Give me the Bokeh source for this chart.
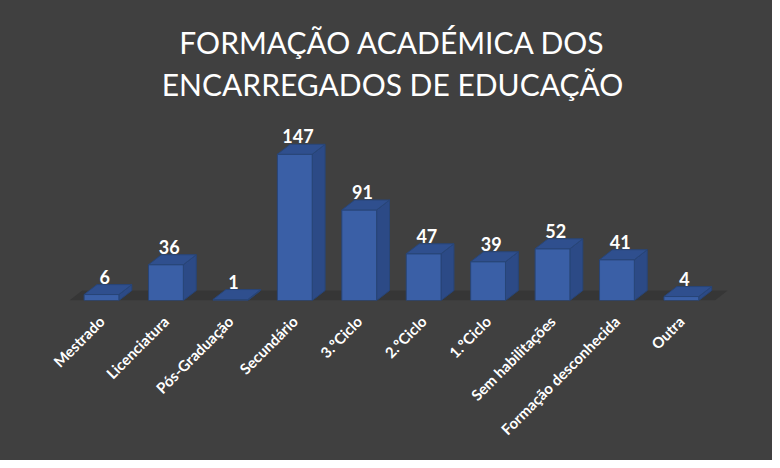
import math
from bokeh.plotting import figure
from bokeh.models import Range1d, FixedTicker, Title, ColumnDataSource
from bokeh.core.properties import value
from bokeh.embed import file_html
from bokeh.resources import INLINE

# ---- data ----
categories = ["Mestrado", "Licenciatura", "Pós-Graduação", "Secundário", "3.ºCiclo",
              "2.ºCiclo", "1.ºCiclo", "Sem habilitações", "Formação desconhecida", "Outra"]
counts = [6, 36, 1, 147, 91, 47, 39, 52, 41, 4]
title_lines = ["FORMAÇÃO ACADÉMICA DOS", "ENCARREGADOS DE EDUCAÇÃO"]

# ---- style ----
BG = "#404040"
FLOOR = "#363636"
FRONT = "#3A5FA6"
TOP = "#2F4F8E"
SIDE = "#2C4A86"
EDGE = "#284577"
HALF_W = 0.27
DX = 0.2
DY = 10

xs = list(range(len(categories)))

front_src = ColumnDataSource(dict(
    left=[x - HALF_W for x in xs], right=[x + HALF_W for x in xs],
    bottom=[0] * len(xs), top=counts))
top_src = ColumnDataSource(dict(
    xs=[[x - HALF_W, x + HALF_W, x + HALF_W + DX, x - HALF_W + DX] for x in xs],
    ys=[[v, v, v + DY, v + DY] for v in counts]))
side_src = ColumnDataSource(dict(
    xs=[[x + HALF_W, x + HALF_W + DX, x + HALF_W + DX, x + HALF_W] for x in xs],
    ys=[[0, DY, v + DY, v] for v in counts]))
label_src = ColumnDataSource(dict(
    x=[x + DX / 4 for x in xs], y=[v + DY + 8 for v in counts],
    text=[str(v) for v in counts]))

p = figure(width=772, height=460, output_backend="svg", toolbar_location=None,
           title=None, y_axis_location=None,
           x_range=Range1d(-0.947, 9.98), y_range=Range1d(0, 196),
           min_border_left=40, min_border_right=28, min_border_top=105,
           min_border_bottom=160,
           outline_line_color=None)
p.background_fill_color = BG
p.border_fill_color = BG
p.styles = {"background-color": BG}
p.grid.visible = False

# floor
first, last = xs[0] - 0.5, xs[-1] + 0.52
p.patch(x=[first, last, last + DX, first + DX], y=[0, 0, DY, DY],
        fill_color=FLOOR, line_color=None)

p.patches(xs="xs", ys="ys", source=side_src, fill_color=SIDE, line_color=EDGE, line_width=1)
p.quad(left="left", right="right", bottom="bottom", top="top", source=front_src,
       fill_color=FRONT, line_color=EDGE, line_width=1)
p.patches(xs="xs", ys="ys", source=top_src, fill_color=TOP, line_color=EDGE, line_width=1)

p.text(x="x", y="y", text="text", source=label_src, text_align="center",
       text_baseline="alphabetic", text_color="white", text_font=value("Lato"),
       text_font_style="bold", text_font_size="18px")

ax = p.xaxis[0]
ax.ticker = FixedTicker(ticks=xs)
ax.major_label_overrides = {x: c for x, c in zip(xs, categories)}
ax.major_label_orientation = math.pi / 4
ax.axis_line_color = None
ax.major_tick_line_color = None
ax.minor_tick_line_color = None
ax.major_label_standoff = 12
ax.major_label_text_color = "white"
ax.major_label_text_font = "Lato"
ax.major_label_text_font_style = "bold"
ax.major_label_text_font_size = "15px"

p.add_layout(Title(text=title_lines[1], align="center", text_color="white",
                   text_font="Lato", text_font_style="normal", text_font_size="30px",
                   standoff=8), "above")
p.add_layout(Title(text=title_lines[0], align="center", text_color="white",
                   text_font="Lato", text_font_style="normal", text_font_size="30px",
                   standoff=0), "above")

open("out.html", "w").write(file_html(p, INLINE))
